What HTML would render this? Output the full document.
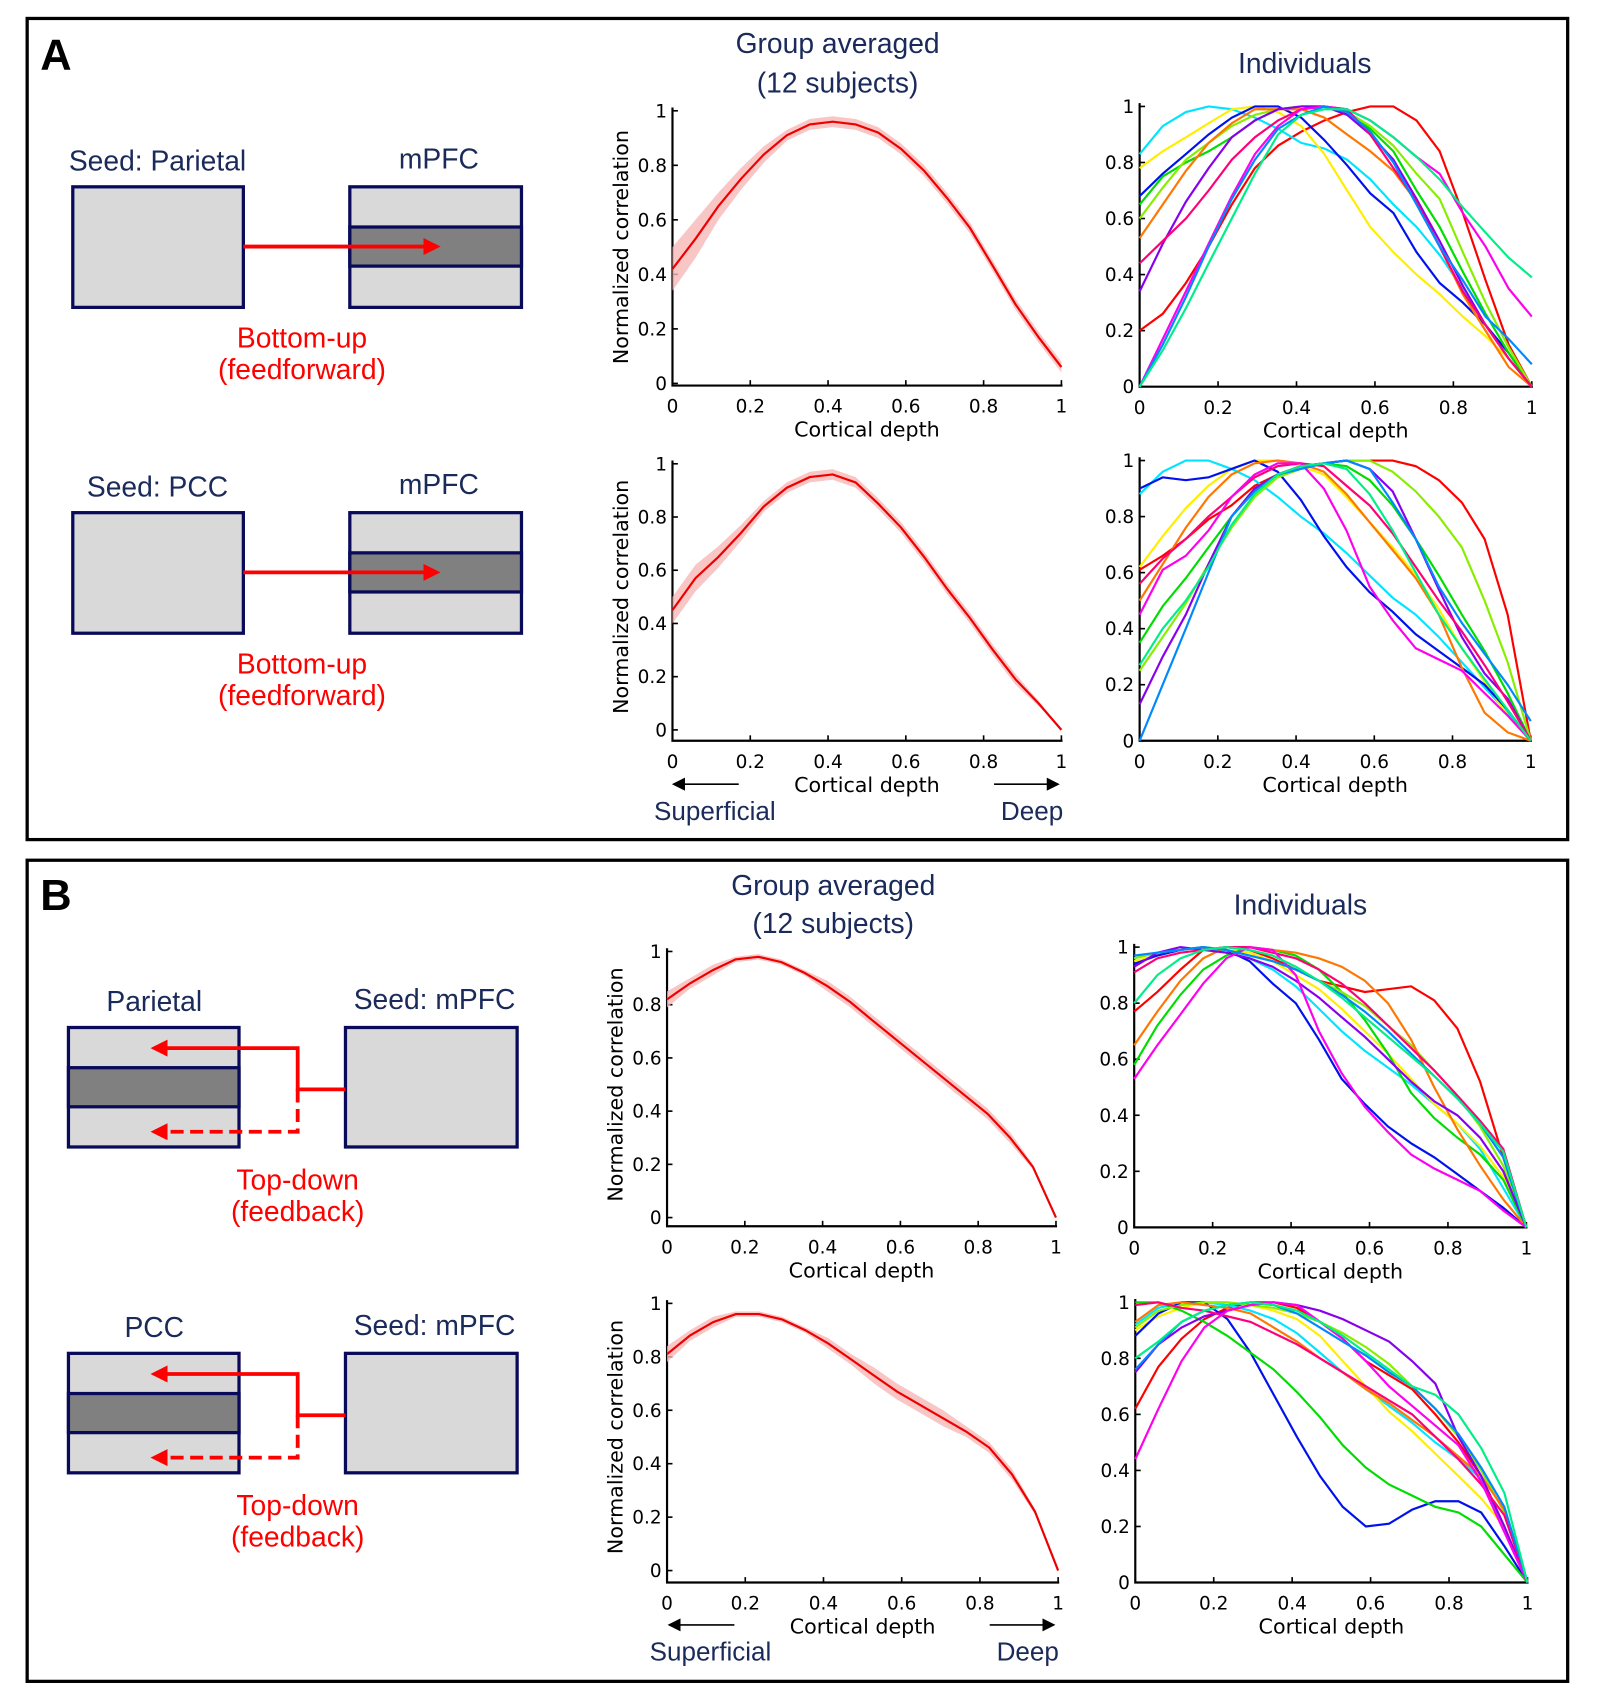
<!DOCTYPE html>
<html><head><meta charset="utf-8"><style>
html,body{margin:0;padding:0;background:#fff;}
svg{display:block;font-family:"Liberation Sans",sans-serif;}
.ax{font-family:"DejaVu Sans","Liberation Sans",sans-serif;}
</style></head><body>
<svg id="fig" width="1597" height="1702" viewBox="0 0 1470 1567" preserveAspectRatio="none" xmlns="http://www.w3.org/2000/svg">
<defs>
<marker id="ah" markerWidth="4.5" markerHeight="4.5" refX="3.5" refY="2.25" orient="auto" markerUnits="strokeWidth"><path d="M0,0 L4.5,2.25 L0,4.5 z" fill="#ff0000"/></marker>
<marker id="ak" markerWidth="8" markerHeight="8" refX="7" refY="4" orient="auto" markerUnits="strokeWidth"><path d="M0,0 L8,4 L0,8 z" fill="#000"/></marker>
</defs>
<rect x="25" y="17" width="1418" height="756" fill="none" stroke="#000" stroke-width="3"/>
<rect x="25" y="792" width="1418" height="756" fill="none" stroke="#000" stroke-width="3"/>
<text x="37" y="64" font-size="40" font-weight="bold">A</text>
<text x="37" y="838" font-size="40" font-weight="bold">B</text>
<g fill="#1a2a5a" font-size="26" text-anchor="middle">
<text x="771" y="49">Group averaged</text>
<text x="771" y="85">(12 subjects)</text>
<text x="1201" y="67">Individuals</text>
<text x="767" y="824">Group averaged</text>
<text x="767" y="859">(12 subjects)</text>
<text x="1197" y="842">Individuals</text>
</g>
<g id="diagrams"></g>
<g id="charts"></g>
</svg>
<script>
const NS="http://www.w3.org/2000/svg";
const svg=document.getElementById('fig');
function mk(tag,attrs,parent){const e=document.createElementNS(NS,tag);for(const k in attrs)e.setAttribute(k,attrs[k]);(parent||svg).appendChild(e);return e;}
const dg=document.getElementById('diagrams');
const NAVY="#0a0a5a", TXT="#1a2a5a";
[0,300].forEach((dy,i)=>{
  let t=mk('text',{x:145,y:157+dy,'font-size':26,fill:TXT,'text-anchor':'middle'},dg);t.textContent=i?'Seed: PCC':'Seed: Parietal';
  
  t=mk('text',{x:404,y:155+dy,'font-size':26,fill:TXT,'text-anchor':'middle'},dg);t.textContent='mPFC';
  
  let r=mk('rect',{x:67,y:172+dy,width:157,height:111,fill:'#d9d9d9',stroke:NAVY,'stroke-width':3},dg);
  
  r=mk('rect',{x:322,y:172+dy,width:158,height:111,fill:'#d9d9d9',stroke:NAVY,'stroke-width':3},dg);
  
  r=mk('rect',{x:322,y:209+dy,width:158,height:36,fill:'#808080',stroke:NAVY,'stroke-width':3},dg);
  
  let l=mk('line',{x1:224,y1:227+dy,x2:402,y2:227+dy,stroke:'#ff0000','stroke-width':3.5,'marker-end':'url(#ah)'},dg);
  
  t=mk('text',{x:278,y:320+dy,'font-size':26,fill:'#ff0000','text-anchor':'middle'},dg);t.textContent='Bottom-up';
  
  t=mk('text',{x:278,y:349+dy,'font-size':26,fill:'#ff0000','text-anchor':'middle'},dg);t.textContent='(feedforward)';
  
});
[0,300].forEach((dy,i)=>{
  let t=mk('text',{x:142,y:931+dy,'font-size':26,fill:TXT,'text-anchor':'middle'},dg);t.textContent=i?'PCC':'Parietal';
  
  t=mk('text',{x:400,y:929+dy,'font-size':26,fill:TXT,'text-anchor':'middle'},dg);t.textContent='Seed: mPFC';
  
  let r=mk('rect',{x:63,y:946+dy,width:157,height:110,fill:'#d9d9d9',stroke:NAVY,'stroke-width':3},dg);
  
  r=mk('rect',{x:63,y:983+dy,width:157,height:36,fill:'#808080',stroke:NAVY,'stroke-width':3},dg);
  
  r=mk('rect',{x:318,y:946+dy,width:158,height:110,fill:'#d9d9d9',stroke:NAVY,'stroke-width':3},dg);
  
  let p=mk('path',{d:`M318,${1003+dy} H274 V${965+dy} H142`,fill:'none',stroke:'#ff0000','stroke-width':3.5,'marker-end':'url(#ah)'},dg);
  
  p=mk('path',{d:`M274,${1003+dy} V${1042+dy} H142`,fill:'none',stroke:'#ff0000','stroke-width':3.5,'stroke-dasharray':'12,6','marker-end':'url(#ah)'},dg);
  
  t=mk('text',{x:274,y:1095+dy,'font-size':26,fill:'#ff0000','text-anchor':'middle'},dg);t.textContent='Top-down';
  
  t=mk('text',{x:274,y:1124+dy,'font-size':26,fill:'#ff0000','text-anchor':'middle'},dg);t.textContent='(feedback)';
  
});

// ---------------- DATA ----------------
const depth=[0,0.059,0.118,0.176,0.235,0.294,0.353,0.412,0.471,0.529,0.588,0.647,0.706,0.765,0.824,0.882,0.941,1];
const xTicks=[0,0.2,0.4,0.6,0.8,1];
const yTicks=[0,0.2,0.4,0.6,0.8,1];
const xTickLabels=['0','0.2','0.4','0.6','0.8','1'];
const yTickLabels=['0','0.2','0.4','0.6','0.8','1'];
const colors=['#ff0000','#00e5ff','#ffee00','#0011ee','#00dd00','#88ee00','#ff7700','#8800ee','#ff0077','#ff00ee','#0088ff','#00ee88'];

const groupA1=[.42,.53,.65,.75,.84,.91,.95,.96,.95,.92,.86,.78,.68,.57,.43,.29,.17,.06];
const groupA1Err=[.08,.07,.05,.04,.03,.02,.02,.02,.02,.02,.02,.02,.02,.02,.02,.02,.02,.02];
const groupA2=[.45,.57,.65,.74,.84,.91,.95,.96,.93,.85,.76,.65,.53,.42,.3,.19,.1,0];
const groupA2Err=[.05,.05,.04,.03,.02,.02,.02,.02,.02,.02,.02,.02,.02,.02,.02,.02,.01,0];
const groupB1=[.82,.88,.93,.97,.98,.96,.92,.87,.81,.74,.67,.6,.53,.46,.39,.3,.19,0];
const groupB1Err=[.03,.02,.02,.01,.01,.01,.01,.02,.02,.02,.02,.02,.02,.02,.02,.02,.01,0];
const groupB2=[.81,.88,.93,.96,.96,.94,.9,.85,.79,.73,.67,.62,.57,.52,.46,.36,.22,0];
const groupB2Err=[.03,.02,.02,.01,.01,.01,.01,.02,.02,.03,.03,.03,.03,.02,.02,.02,.01,0];

const indivA1=[
[.2,.26,.37,.5,.65,.78,.86,.91,.95,.98,1,1,.95,.84,.62,.38,.15,0],
[.83,.93,.98,1,.99,.96,.92,.87,.85,.81,.74,.65,.57,.47,.35,.22,.1,0],
[.78,.84,.89,.94,.99,1,.98,.93,.83,.7,.57,.48,.4,.33,.25,.18,.1,0],
[.68,.76,.83,.9,.96,1,1,.96,.88,.79,.69,.62,.48,.37,.3,.22,.12,0],
[.65,.75,.8,.84,.89,.95,.99,1,1,.98,.92,.84,.7,.57,.41,.26,.12,0],
[.6,.71,.81,.87,.93,.97,.99,1,1,.98,.93,.86,.76,.67,.48,.3,.14,0],
[.53,.65,.77,.87,.94,.99,.99,.99,.96,.9,.84,.77,.66,.5,.33,.2,.07,0],
[.34,.51,.66,.78,.89,.95,.99,1,1,.97,.9,.81,.67,.52,.36,.22,.1,0],
[.44,.52,.6,.7,.81,.89,.95,.99,1,.99,.9,.78,.66,.5,.34,.22,.1,0],
[0,.17,.34,.51,.68,.83,.93,.99,1,.99,.95,.89,.82,.76,.62,.5,.35,.25],
[0,.15,.32,.5,.67,.81,.92,.97,1,.98,.91,.8,.65,.5,.38,.25,.17,.08],
[0,.13,.28,.44,.6,.76,.9,.97,.99,.99,.95,.89,.82,.74,.64,.55,.46,.39]];
const indivA2=[
[.61,.66,.72,.79,.84,.91,.95,.98,.99,1,1,1,.98,.93,.85,.72,.45,0],
[.88,.96,1,1,.97,.93,.87,.8,.74,.67,.59,.51,.45,.37,.28,.19,.1,0],
[.62,.73,.83,.91,.97,1,1,.98,.95,.87,.78,.69,.59,.47,.33,.21,.09,0],
[.9,.94,.93,.94,.97,1,.96,.86,.73,.62,.53,.46,.38,.32,.26,.2,.11,0],
[.35,.48,.58,.69,.8,.9,.95,.98,.99,.98,.93,.84,.72,.59,.45,.32,.17,0],
[.25,.37,.49,.63,.76,.87,.94,.97,.99,1,1,.96,.89,.8,.69,.5,.28,0],
[.5,.63,.76,.87,.95,.99,1,.99,.96,.88,.78,.68,.58,.45,.26,.1,.03,0],
[.13,.3,.45,.63,.8,.9,.95,.98,.99,1,.97,.89,.72,.54,.37,.24,.15,0],
[.56,.65,.72,.8,.87,.94,.98,.99,.98,.91,.84,.74,.62,.5,.39,.27,.14,0],
[.45,.61,.66,.75,.87,.95,.99,.99,.9,.75,.55,.43,.33,.29,.25,.17,.09,0],
[0,.2,.4,.6,.8,.89,.95,.97,.99,1,.97,.85,.72,.55,.42,.31,.2,.07],
[.27,.4,.5,.62,.77,.88,.95,.98,.99,.97,.88,.75,.6,.45,.33,.22,.11,0]];
const indivB1=[
[.77,.84,.92,.99,1,.99,.96,.92,.88,.86,.84,.85,.86,.81,.71,.52,.25,0],
[.96,.98,.99,1,.98,.96,.92,.86,.78,.7,.63,.57,.51,.44,.37,.28,.14,0],
[.95,.97,.99,1,.99,.98,.95,.9,.85,.78,.7,.62,.53,.44,.37,.29,.18,0],
[.94,.97,.99,1,.99,.95,.87,.8,.67,.53,.44,.36,.3,.25,.19,.13,.07,0],
[.58,.72,.83,.92,.97,1,.99,.97,.92,.84,.74,.62,.48,.39,.32,.26,.17,0],
[.96,.98,.99,1,.99,.97,.95,.92,.88,.84,.79,.72,.65,.56,.47,.36,.22,0],
[.65,.77,.88,.96,1,1,.99,.98,.96,.93,.88,.8,.67,.5,.35,.22,.1,0],
[.93,.98,1,.99,.98,.96,.93,.88,.82,.75,.68,.6,.52,.45,.4,.32,.2,0],
[.91,.96,.98,.99,1,1,.98,.96,.92,.87,.8,.72,.64,.56,.47,.38,.28,0],
[.53,.65,.76,.87,.96,1,.99,.9,.7,.55,.43,.34,.26,.21,.17,.13,.06,0],
[.97,.98,.99,1,.99,.97,.95,.92,.88,.83,.77,.7,.62,.54,.46,.37,.25,0],
[.8,.9,.96,.99,1,.99,.97,.93,.88,.82,.75,.68,.61,.54,.46,.37,.27,0]];
const indivB2=[
[.62,.77,.87,.94,.98,1,1,.98,.93,.87,.79,.74,.69,.6,.5,.38,.2,0],
[.92,.98,1,1,.99,.97,.94,.89,.82,.75,.69,.63,.57,.5,.44,.37,.2,0],
[.9,.95,.98,1,1,.99,.97,.94,.88,.79,.7,.61,.54,.46,.38,.3,.2,0],
[.88,.96,1,1,.94,.82,.67,.52,.38,.27,.2,.21,.26,.29,.29,.25,.13,0],
[1,1,.97,.93,.88,.82,.76,.68,.59,.49,.41,.35,.31,.27,.25,.2,.1,0],
[.91,.97,.99,1,1,.99,.98,.96,.93,.89,.84,.78,.7,.62,.52,.4,.25,0],
[.93,.99,1,.99,.98,.96,.91,.86,.8,.75,.69,.64,.58,.52,.45,.38,.26,0],
[.75,.85,.91,.95,.97,.99,1,.99,.97,.94,.9,.86,.79,.71,.52,.38,.2,0],
[.99,1,.98,.97,.95,.93,.89,.85,.8,.75,.7,.65,.6,.52,.44,.35,.24,0],
[.44,.62,.79,.91,.97,.99,1,.99,.93,.87,.79,.7,.63,.56,.49,.36,.18,0],
[.76,.85,.93,.97,.99,1,.99,.96,.91,.86,.81,.75,.7,.62,.53,.41,.27,0],
[.8,.86,.93,.97,.99,1,.99,.97,.93,.88,.82,.76,.7,.67,.6,.48,.32,0]];

// --------------- DRAWING ---------------
const cg=document.getElementById('charts');
function axes(name,x0,x1,y0,y1,ylab,off){
  const g=mk('g',{class:'ax'},cg);
  
  
  const sx=v=>x0+v*(x1-x0), sy=v=>y0-v*(y0-y1);
  const yb=y0+off;
  let a=mk('path',{d:`M${x0},${y1-3} V${yb} H${x1+1}`,fill:'none',stroke:'#000','stroke-width':2},g);
  
  xTicks.forEach((v,i)=>{
    let tk=mk('line',{x1:sx(v),x2:sx(v),y1:yb,y2:yb-5,stroke:'#000','stroke-width':1.5},g);
    
    let t=mk('text',{x:sx(v),y:yb+25,'font-size':17,'text-anchor':'middle'},g);t.textContent=xTickLabels[i];
    
  });
  yTicks.forEach((v,i)=>{
    let tk=mk('line',{x1:x0,x2:x0+5,y1:sy(v),y2:sy(v),stroke:'#000','stroke-width':1.5},g);
    
    let t=mk('text',{x:x0-5,y:sy(v)+6,'font-size':17,'text-anchor':'end'},g);t.textContent=yTickLabels[i];
    
  });
  let t=mk('text',{x:(x0+x1)/2,y:yb+47,'font-size':19,'text-anchor':'middle'},g);t.textContent='Cortical depth';
  
  if(ylab){
    const cy=(y0+y1)/2;
    t=mk('text',{x:x0-41,y:cy,'font-size':19,'text-anchor':'middle',transform:`rotate(-90 ${x0-41} ${cy})`},g);t.textContent='Normalized correlation';
    
  }
  return {g,sx,sy};
}
function groupChart(name,x0,x1,y0,y1,off,mean,err){
  const {g,sx,sy}=axes(name,x0,x1,y0,y1,true,off);
  let up=depth.map((d,i)=>`${sx(d)},${sy(Math.min(1,mean[i]+err[i]))}`);
  let dn=depth.map((d,i)=>`${sx(d)},${sy(Math.max(0,mean[i]-err[i]))}`).reverse();
  let b=mk('polygon',{points:up.concat(dn).join(' '),fill:'#f7b8b8',opacity:0.8},g);
  
  let l=mk('polyline',{points:depth.map((d,i)=>`${sx(d)},${sy(mean[i])}`).join(' '),fill:'none',stroke:'#ee0000','stroke-width':2},g);
  
}
function indivChart(name,x0,x1,y0,y1,series){
  const {g,sx,sy}=axes(name,x0,x1,y0,y1,false,0);
  series.forEach((s,k)=>{
    let l=mk('polyline',{points:depth.map((d,i)=>`${sx(d)},${sy(s[i])}`).join(' '),fill:'none',stroke:colors[k],'stroke-width':2},g);
    
    
  });
}
groupChart('group-chart-a1',619,977,353,102,2,groupA1,groupA1Err);
groupChart('group-chart-a2',619,977,672,427,10,groupA2,groupA2Err);
groupChart('group-chart-b1',614,972,1121,876,8,groupB1,groupB1Err);
groupChart('group-chart-b2',614,974,1446,1200,11,groupB2,groupB2Err);
indivChart('individual-chart-a1',1049,1410,356,98,indivA1);
indivChart('individual-chart-a2',1049,1409,682,424,indivA2);
indivChart('individual-chart-b1',1044,1405,1130,872,indivB1);
indivChart('individual-chart-b2',1045,1406,1457,1199,indivB2);

[[722,746,658,950,614,680,915,980],[1496,1520,654,946,610,676,911,976]].forEach(a=>{
  let l=mk('line',{x1:a[5],y1:a[0],x2:a[4]+6,y2:a[0],stroke:'#000','stroke-width':1.5,'marker-end':'url(#ak)'},cg);
  
  l=mk('line',{x1:a[6],y1:a[0],x2:a[7]-6,y2:a[0],stroke:'#000','stroke-width':1.5,'marker-end':'url(#ak)'},cg);
  
  let t=mk('text',{x:a[2],y:a[1]+9,'font-size':24,fill:TXT,'text-anchor':'middle'},cg);t.textContent='Superficial';
  
  t=mk('text',{x:a[3],y:a[1]+9,'font-size':24,fill:TXT,'text-anchor':'middle'},cg);t.textContent='Deep';
  
});
</script>
</body></html>
